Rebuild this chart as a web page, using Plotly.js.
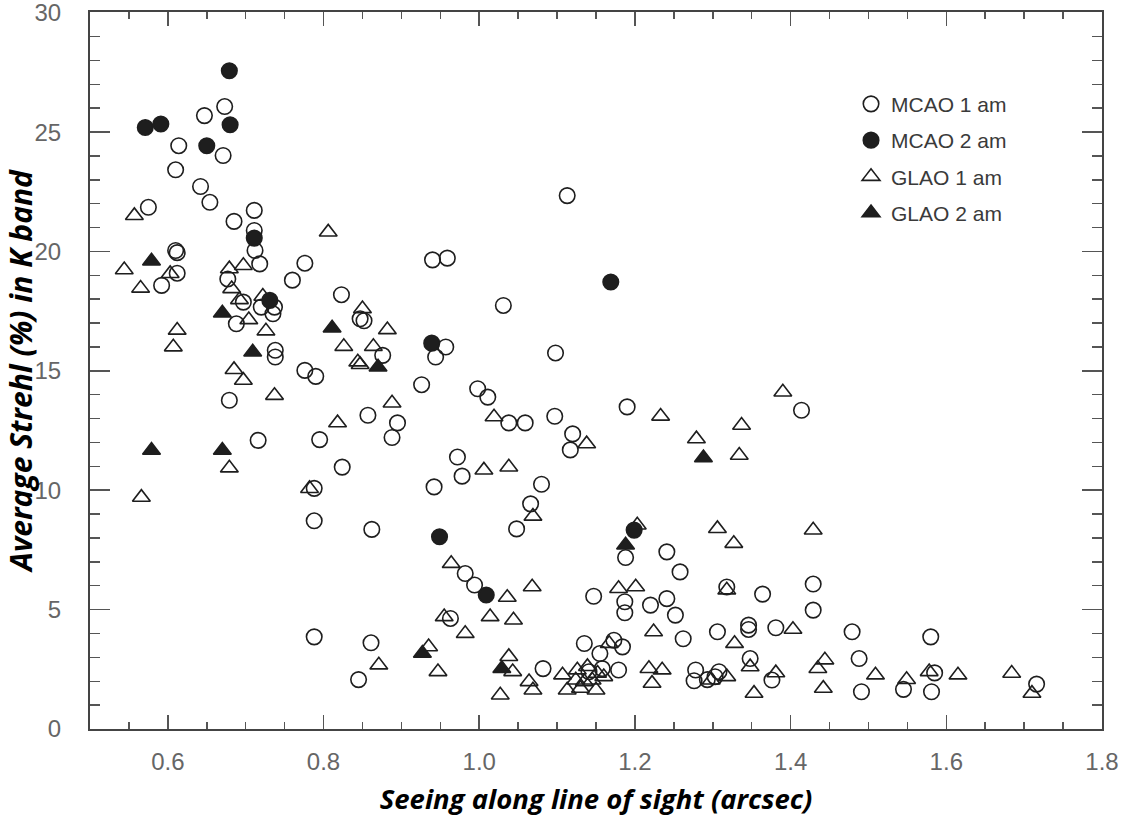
<!DOCTYPE html>
<html>
<head>
<meta charset="utf-8">
<script src="https://cdn.plot.ly/plotly-3.0.1.min.js"></script>
<style>html,body{margin:0;padding:0;background:#fff;}#chart{width:1124px;height:817px;}</style>
</head>
<body>
<div id="chart"></div>
<script>
// MCAO 1 am (open circles)
const mcao1X = [0.673,0.647,0.614,0.671,0.610,0.642,0.654,0.575,0.685,0.711,0.711,0.712,0.610,0.612,0.612,0.592,0.718,0.677,0.697,0.720,0.737,0.735,0.688,0.760,0.776,0.823,0.847,0.852,0.738,0.738,0.876,0.776,0.790,0.679,0.857,0.888,0.716,0.795,0.824,0.788,0.788,0.862,0.788,0.861,0.845,1.113,0.940,0.959,1.031,0.957,0.944,1.098,0.926,0.998,1.011,0.895,1.038,1.059,1.097,1.120,1.117,1.190,1.414,0.972,0.978,0.942,1.080,1.066,1.048,1.188,1.241,1.258,0.982,0.994,1.147,1.187,1.187,1.220,1.241,1.252,1.318,1.262,1.306,0.963,1.082,1.135,1.173,1.184,1.155,1.141,1.158,1.179,1.278,1.276,1.293,1.308,1.303,1.364,1.429,1.429,1.346,1.346,1.381,1.479,1.580,1.348,1.488,1.376,1.545,1.585,1.716,1.491,1.581];
const mcao1Y = [26.07,25.69,24.43,24.02,23.42,22.72,22.06,21.85,21.26,21.72,20.88,20.04,20.04,19.95,19.09,18.58,19.48,18.85,17.88,17.67,17.67,17.39,16.97,18.8,19.51,18.19,17.18,17.10,15.86,15.58,15.65,15.02,14.77,13.77,13.14,12.21,12.09,12.12,10.97,10.08,8.72,8.36,3.86,3.61,2.07,22.34,19.65,19.72,17.74,16.0,15.58,15.75,14.42,14.25,13.9,12.82,12.82,12.82,13.1,12.36,11.69,13.49,13.35,11.39,10.59,10.14,10.25,9.43,8.38,7.18,7.42,6.58,6.51,6.03,5.56,5.33,4.87,5.19,5.46,4.77,5.95,3.78,4.07,4.63,2.53,3.58,3.72,3.44,3.16,2.40,2.53,2.47,2.47,2.02,2.07,2.40,2.19,5.65,6.07,4.98,4.35,4.17,4.24,4.07,3.86,2.95,2.95,2.05,1.66,2.35,1.88,1.56,1.56];

// MCAO 2 am (filled circles)
const mcao2X = [0.679,0.571,0.591,0.680,0.650,0.711,0.731,1.169,0.939,0.949,1.199,1.009];
const mcao2Y = [27.57,25.19,25.34,25.31,24.43,20.56,17.95,18.72,16.16,8.05,8.33,5.61];

// GLAO 1 am (open triangles)
const glao1X = [0.557,0.806,0.544,0.603,0.565,0.612,0.607,0.566,0.679,0.697,0.682,0.692,0.704,0.722,0.726,0.850,0.882,0.826,0.864,0.844,0.847,0.685,0.697,0.737,0.818,0.888,0.679,0.782,0.871,1.019,1.138,1.233,1.279,1.337,1.334,1.390,1.006,1.038,1.069,1.203,1.306,1.327,1.429,0.964,1.036,1.068,1.179,1.201,1.318,1.224,1.328,0.955,0.982,1.014,1.044,0.935,0.947,1.038,1.043,1.027,1.064,1.069,1.167,1.107,1.113,1.126,1.139,1.152,1.160,1.124,1.135,1.145,1.130,1.150,1.218,1.235,1.222,1.318,1.298,1.348,1.353,1.403,1.444,1.435,1.381,1.509,1.549,1.578,1.615,1.684,1.710,1.442];
const glao1Y = [21.5,20.81,19.23,19.07,18.46,16.7,16.0,9.7,19.27,19.41,18.44,17.98,17.14,18.12,16.67,17.6,16.72,16.02,16.02,15.37,15.26,15.05,14.6,13.97,12.82,13.65,10.93,10.07,2.68,13.07,11.94,13.1,12.15,12.72,11.46,14.11,10.84,10.97,8.91,8.54,8.39,7.77,8.33,6.93,5.51,5.95,5.88,5.95,5.82,4.07,3.58,4.70,4.0,4.70,4.56,3.44,2.40,3.03,2.40,1.42,1.98,1.63,3.58,2.26,1.63,2.47,2.61,2.33,2.19,2.05,1.98,2.05,1.70,1.63,2.53,2.47,1.91,2.19,2.05,2.60,1.49,4.17,2.89,2.53,2.35,2.26,2.07,2.40,2.26,2.33,1.49,1.70];

// GLAO 2 am (filled triangles)
const glao2X = [0.579,0.579,0.670,0.670,0.709,0.811,0.870,1.288,1.188,0.927,1.029];
const glao2Y = [19.6,11.67,17.42,11.67,15.79,16.79,15.16,11.36,7.7,3.17,2.53];

const seriesNames = ['MCAO 1 am','MCAO 2 am','GLAO 1 am','GLAO 2 am'];
const xTitle = 'Seeing along line of sight (arcsec)';
const yTitle = 'Average Strehl (%) in K band';
const yTickVals = [0, 5, 10, 15, 20, 25, 30];

const ink = '#1e1e1e';
function tr(x, y, name, symbol, gi) {
  return {
    type: 'scatter', mode: 'markers', x: x, y: y, name: name,
    legendgroup: 'g' + gi,
    marker: {symbol: symbol, size: 15.5, color: ink, line: {width: 1.6, color: ink}},
    hoverinfo: 'x+y'
  };
}
const data = [
  tr(mcao1X, mcao1Y, seriesNames[0], 'circle-open', 0),
  tr(mcao2X, mcao2Y, seriesNames[1], 'circle', 1),
  tr(glao1X, glao1Y, seriesNames[2], 'triangle-up-open', 2),
  tr(glao2X, glao2Y, seriesNames[3], 'triangle-up', 3)
];

const tickFont = {family: 'Liberation Sans, Arial, sans-serif', size: 24, color: '#666'};
const layout = {
  width: 1124, height: 817,
  margin: {l: 90, r: 22, t: 12, b: 88},
  paper_bgcolor: '#fff', plot_bgcolor: '#fff',
  showlegend: true,
  legend: {x: 0.752, y: 0.9, xanchor: 'left', yanchor: 'top', bgcolor: 'rgba(0,0,0,0)',
           font: {family: 'Liberation Sans, Arial, sans-serif', size: 21, color: '#3a3a3a'},
           tracegroupgap: 6, itemwidth: 30},
  xaxis: {
    range: [0.5, 1.8], dtick: 0.2, tick0: 0, tickformat: '.1f',
    showgrid: false, zeroline: false,
    showline: true, linecolor: '#444', linewidth: 2, mirror: 'ticks',
    ticks: 'inside', ticklen: 14, tickwidth: 1.5, tickcolor: '#555',
    minor: {dtick: 0.05, ticks: 'inside', ticklen: 7, tickwidth: 1.5, tickcolor: '#555', showgrid: false},
    tickfont: tickFont, ticklabelstandoff: 10,
    title: {text: xTitle, font: {family: 'Open Sans, sans-serif', size: 27.5, color: '#000', weight: 'bold', style: 'italic'}, standoff: 20}
  },
  yaxis: {
    range: [0, 30.03], tickmode: 'array', tickvals: yTickVals,
    showgrid: false, zeroline: false,
    showline: true, linecolor: '#444', linewidth: 2, mirror: 'ticks',
    ticks: 'inside', ticklen: 20, tickwidth: 1.5, tickcolor: '#555',
    minor: {tickmode: 'linear', tick0: 0, dtick: 1, ticks: 'inside', ticklen: 10, tickwidth: 1.5, tickcolor: '#555', showgrid: false},
    tickfont: tickFont, ticklabelstandoff: 22, ticklabeloverflow: 'allow',
    title: {text: yTitle, font: {family: 'Open Sans, sans-serif', size: 30, color: '#000', weight: 'bold', style: 'italic'}, standoff: 10}
  }
};
Plotly.newPlot('chart', data, layout, {displayModeBar: false, staticPlot: true});
</script>
</body>
</html>
